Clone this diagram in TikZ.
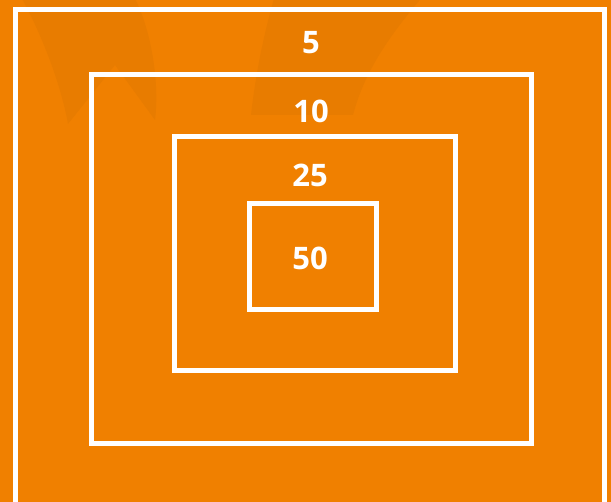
\documentclass[tikz,border=0pt]{standalone}
\usepackage{fontspec}
\setsansfont{Open Sans}
\usepackage{xcolor}
\usepackage{tikz}
\usetikzlibrary{positioning}
\definecolor{bgorange}{HTML}{F08000}
\definecolor{markorange}{HTML}{E87C00}

\begin{document}
\begin{tikzpicture}[
    x=1pt, y=-1pt,
    frame/.style={draw=white, line width=5pt, inner sep=0pt, outer sep=0pt},
    score/.style={text=white, inner sep=0pt, font=\sffamily\bfseries\fontsize{31}{31}\selectfont}
]
\useasboundingbox (0,0) rectangle (611,502);
\clip (0,0) rectangle (611,502);
\fill[bgorange] (0,0) rectangle (611,502);
% faint watermark shapes
\fill[markorange] (20,-5) .. controls (45,40) and (62,90) .. (68,124) -- (115,65) -- (155,120)
    .. controls (160,80) and (150,25) .. (133,-5) -- cycle;
\fill[markorange] (275,-5) .. controls (262,40) and (255,80) .. (251,115) -- (353,115)
    .. controls (365,70) and (390,35) .. (424,-5) -- cycle;
% nested frames
\node[frame, minimum width=589pt, minimum height=520pt, anchor=north west] (f5) at (15.4,9.8) {};
\node[frame, minimum width=440pt, minimum height=369.5pt] (f10) at (311.5,258.8) {};
\node[frame, minimum width=281pt, minimum height=234pt] (f25) at (314.5,254) {};
\node[frame, minimum width=127.5pt, minimum height=106pt] (f50) at (313.2,257) {};
% values
\node[score] (v5) at (311,43) {5};
\node[score] (v10) at (311,111) {10};
\node[score] (v25) at (310,175) {25};
\node[score] (v50) at (310,258) {50};
\end{tikzpicture}
\end{document}
